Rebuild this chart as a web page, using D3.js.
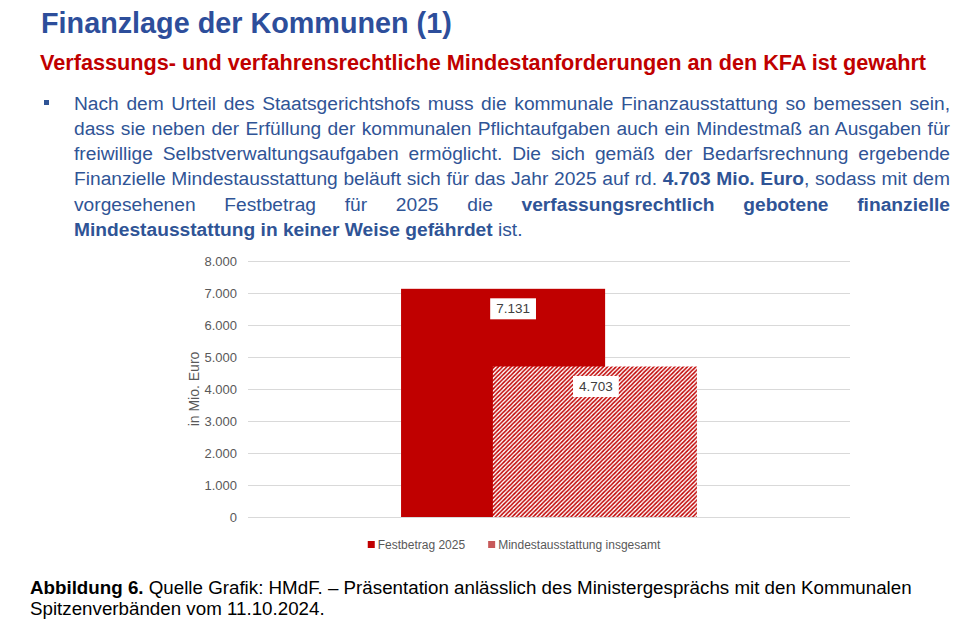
<!DOCTYPE html>
<html>
<head>
<meta charset="utf-8">
<script src="https://cdn.jsdelivr.net/npm/d3@7"></script>
<style>
  body { margin: 0; background: #fff; }
  svg { display: block; font-family: "Liberation Sans", Arial, sans-serif; }
  text { white-space: pre; }
</style>
</head>
<body>
<svg id="page" width="966" height="631"></svg>
<script>
// data
const categories = ["2025"];
const seriesNames = ["Festbetrag 2025", "Mindestausstattung insgesamt"];
const seriesValues = [7131, 4703];
const yTicks = [0, 1000, 2000, 3000, 4000, 5000, 6000, 7000, 8000];
const yLabel = "in Mio. Euro";

const titleText = "Finanzlage der Kommunen (1)";
const subtitleText = "Verfassungs- und verfahrensrechtliche Mindestanforderungen an den KFA ist gewahrt";
const paragraphLines = [
  [["Nach dem Urteil des Staatsgerichtshofs muss die kommunale Finanzausstattung so bemessen sein,", false]],
  [["dass sie neben der Erfüllung der kommunalen Pflichtaufgaben auch ein Mindestmaß an Ausgaben für", false]],
  [["freiwillige Selbstverwaltungsaufgaben ermöglicht. Die sich gemäß der Bedarfsrechnung ergebende", false]],
  [["Finanzielle Mindestausstattung beläuft sich für das Jahr 2025 auf rd. ", false], ["4.703 Mio. Euro", true], [", sodass mit dem", false]],
  [["vorgesehenen Festbetrag für 2025 die ", false], ["verfassungsrechtlich gebotene finanzielle", true]],
  [["Mindestausstattung in keiner Weise gefährdet", true], [" ist.", false]]
];
const captionLines = [
  [["Abbildung 6.", true], [" Quelle Grafik: HMdF. – Präsentation anlässlich des Ministergesprächs mit den Kommunalen", false]],
  [["Spitzenverbänden vom 11.10.2024.", false]]
];

const de = d3.formatLocale({ decimal: ",", thousands: ".", grouping: [3], currency: ["", " €"] });
const fmt = de.format(",");

const svg = d3.select("#page");
const blue = "#2f5496", red = "#c00000", grey = "#595959";

function fitWidth(t, target) {
  const w = t.node().getComputedTextLength();
  const fs = parseFloat(t.attr("font-size"));
  t.attr("font-size", fs * target / w);
  return fs * target / w;
}

function addRuns(t, runs) {
  runs.forEach(r => t.append("tspan").attr("font-weight", r[1] ? "bold" : "normal").text(r[0]));
}

// header
const title = svg.append("text")
    .attr("x", 41).attr("y", 33)
    .attr("font-size", 25).attr("font-weight", "bold")
    .attr("fill", "#2d4e9b")
    .text(titleText);
fitWidth(title, 411);

const subtitle = svg.append("text")
    .attr("x", 40).attr("y", 70)
    .attr("font-size", 19).attr("font-weight", "bold")
    .attr("fill", red)
    .text(subtitleText);
fitWidth(subtitle, 887);

// bullet paragraph
svg.append("rect").attr("x", 44).attr("y", 100).attr("width", 5).attr("height", 5).attr("fill", blue);

paragraphLines.forEach((runs, i) => {
  const t = svg.append("text")
      .attr("x", 74).attr("y", 109.5 + i * 25.3)
      .attr("font-size", 19.2).attr("fill", blue);
  addRuns(t, runs);
  if (i < paragraphLines.length - 1) {
    const w = t.node().getComputedTextLength();
    const spaces = (t.text().match(/ /g) || []).length;
    t.style("word-spacing", ((876 - w) / spaces) + "px");
  }
});

// chart
const y = d3.scaleLinear().domain([0, 8000]).range([517, 261]);
const x = d3.scaleBand().domain(categories).range([248, 850]);

const gapWidth = 1.5, overlap = 0.55, n = seriesValues.length;
const barW = x.bandwidth() / (n - (n - 1) * overlap + gapWidth);
const groupW = barW * (n - (n - 1) * overlap);
const barX = i => x(categories[0]) + (x.bandwidth() - groupW) / 2 + i * barW * (1 - overlap);

const defs = svg.append("defs");
const pat = defs.append("pattern")
    .attr("id", "hatch")
    .attr("patternUnits", "userSpaceOnUse")
    .attr("width", 4.2).attr("height", 4.2);
pat.append("rect").attr("width", 4.2).attr("height", 4.2).attr("fill", "#fff");
pat.append("path")
    .attr("d", "M-1,1 l2,-2 M0,4.2 l4.2,-4.2 M3.2,5.2 l2,-2")
    .attr("stroke", red).attr("stroke-width", 1.5);

const yAxis = d3.axisLeft(y)
    .tickValues(yTicks)
    .tickSize(-(850 - 248))
    .tickPadding(11)
    .tickFormat(fmt);

const gy = svg.append("g")
    .attr("transform", "translate(248,0)")
    .call(yAxis);
gy.select(".domain").remove();
gy.selectAll(".tick line").attr("stroke", "#d9d9d9");
gy.selectAll(".tick text")
    .attr("fill", grey)
    .attr("font-size", 13)
    .attr("font-family", "Liberation Sans, Arial, sans-serif");

svg.append("text")
    .attr("transform", "translate(199,389) rotate(-90)")
    .attr("text-anchor", "middle")
    .attr("font-size", 14)
    .attr("fill", grey)
    .text(yLabel);

const fills = [red, "url(#hatch)"];
svg.append("g").selectAll("rect")
  .data(seriesValues)
  .join("rect")
    .attr("x", (d, i) => barX(i))
    .attr("y", d => y(d))
    .attr("width", barW)
    .attr("height", d => y(0) - y(d))
    .attr("fill", (d, i) => fills[i]);

// data labels
const labelDx = [10, 1];
seriesValues.forEach((d, i) => {
  const g = svg.append("g");
  const cx = barX(i) + barW / 2 + labelDx[i];
  const cy = y(d) + 20;
  const t = g.append("text")
      .attr("x", cx).attr("y", cy + 4.5)
      .attr("text-anchor", "middle")
      .attr("font-size", 13.5)
      .attr("fill", "#404040")
      .text(fmt(d));
  const bb = t.node().getBBox();
  g.insert("rect", "text")
      .attr("x", bb.x - 6).attr("y", cy - 10.5)
      .attr("width", bb.width + 12).attr("height", 21)
      .attr("fill", "#fff");
});

// legend
const legendFills = [red, "#c75a5a"];
const legend = svg.append("g");
let lx = 0;
seriesNames.forEach((name, i) => {
  const item = legend.append("g").attr("transform", `translate(${lx},0)`);
  item.append("rect").attr("x", 0).attr("y", 541).attr("width", 7).attr("height", 7).attr("fill", legendFills[i]);
  const t = item.append("text").attr("x", 10).attr("y", 549)
      .attr("font-size", 12).attr("fill", grey).text(name);
  lx += 10 + t.node().getComputedTextLength() + 23;
});
const lw = lx - 23;
legend.attr("transform", `translate(${514 - lw / 2},0)`);

// caption
let capSize = 17;
captionLines.forEach((runs, i) => {
  const t = svg.append("text")
      .attr("x", 30).attr("y", 594 + i * 20.5)
      .attr("font-size", capSize).attr("fill", "#000");
  addRuns(t, runs);
  if (i === 0) capSize = fitWidth(t, 882);
});
</script>
</body>
</html>
